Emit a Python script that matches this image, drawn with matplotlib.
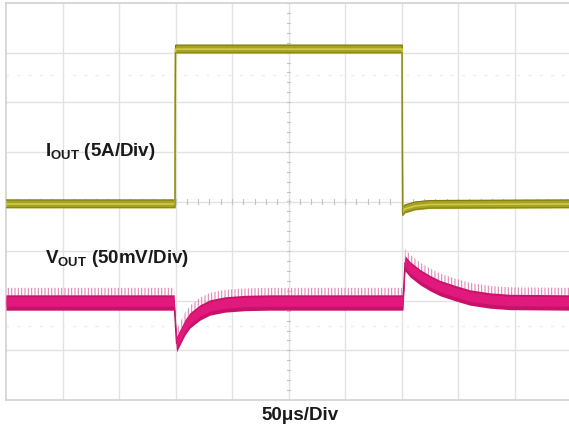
"""Load-step transient capture: IOUT (5A/Div) and VOUT (50mV/Div), 50us/Div."""

import matplotlib

matplotlib.use("Agg")
import matplotlib.pyplot as plt
import numpy as np

# time axis in microseconds, traces in screen divisions (0 = centre line)
iout_t = [0, 149.6, 150.0, 350.6, 351.0, 353, 362, 375, 500]
iout_div = [-0.04, -0.04, 3.08, 3.08, -0.20, -0.14, -0.08, -0.05, -0.04]

vout_t = [0, 148.7, 150.9, 154.0, 158.4, 162.8, 171.7, 180.5, 193.8, 211.5,
          233.6, 351.3, 353.1, 357.5, 366.4, 375.2, 384.1, 397.3, 410.6,
          428.3, 446.0, 500]
vout_div = [-2.02, -2.02, -2.86, -2.72, -2.52, -2.38, -2.22, -2.12, -2.06,
            -2.03, -2.02, -2.02, -1.23, -1.35, -1.51, -1.63, -1.73, -1.83,
            -1.92, -1.98, -2.01, -2.02]

labels = [r"$\mathbf{I_{OUT}}$ (5A/Div)", r"$\mathbf{V_{OUT}}$ (50mV/Div)"]
time_label = "50μs/Div"

plt.rcParams["font.family"] = ["Liberation Sans", "DejaVu Sans"]
plt.rcParams["mathtext.fontset"] = "custom"
plt.rcParams["mathtext.bf"] = "Liberation Sans:bold"
plt.rcParams["mathtext.rm"] = "Liberation Sans"
plt.rcParams["hatch.linewidth"] = 0.8

W, H = 569, 426
fig = plt.figure(figsize=(W / 100, H / 100), dpi=100)
ax = fig.add_axes([6 / W, 26 / H, 565 / W, 397 / H])
ax.set_xlim(0, 500)
ax.set_ylim(-4, 4)
ax.set_xticks([])
ax.set_yticks([])
for side in ("left", "top", "bottom"):
    ax.spines[side].set_color("#d2d2d2")
    ax.spines[side].set_linewidth(1.2)
ax.spines["right"].set_visible(False)

grid_c = "#e2e2e2"
for x in np.arange(50, 500, 50):
    ax.axvline(x, color=grid_c, lw=1.0, zorder=0)
for y in np.arange(-3, 4, 1):
    ax.axhline(y, color=grid_c, lw=1.0, zorder=0)

# centre-line minor ticks
for y in np.arange(-4, 4.01, 0.2):
    ax.plot([248.5, 251.5], [y, y], color="#c4c4c4", lw=0.8, zorder=0)
for x in np.arange(0, 500.1, 10):
    ax.plot([x, x], [-0.05, 0.05], color="#c4c4c4", lw=0.8, zorder=0)

# faint ghost rows of the scope screen
for y in (2.54, -2.50):
    ax.axhline(y, color="#ececec", lw=1.0, ls=(0, (2, 6)), zorder=0)

# IOUT trace
it = np.array(iout_t)
iv = np.array(iout_div)
ax.plot(it, iv, color="#6f6c16", lw=0.9, zorder=2)
ax.fill_between(it, iv - 0.09, iv + 0.09, color="#a6a226", lw=0, zorder=3)
ax.plot(it, iv + 0.07, color="#7f7b12", lw=0.8, zorder=4)
ax.plot(it, iv - 0.01, color="#cfcb40", lw=1.2, zorder=4)
ax.plot(it, iv - 0.08, color="#8a8618", lw=0.8, zorder=4)

# VOUT trace
vt = np.array(vout_t)
vv = np.array(vout_div)
ax.fill_between(vt, vv + 0.12, vv + 0.28, facecolor="none",
                edgecolor="#e384b4", hatch="|||||", lw=0, zorder=2)
ax.plot(vt, vv, color="#a5105a", lw=0.9, zorder=2)
ax.fill_between(vt, vv - 0.17, vv + 0.14, color="#c8126a", lw=0, zorder=3)
ax.fill_between(vt, vv - 0.09, vv + 0.10, color="#e2197c", lw=0, zorder=4)

txt_c = "#1a1a1a"
fig.text(45 / W, 1 - 156 / H, labels[0], fontsize=13.5, fontweight="bold",
         color=txt_c, va="baseline", ha="left")
fig.text(45 / W, 1 - 263 / H, labels[1], fontsize=13.5, fontweight="bold",
         color=txt_c, va="baseline", ha="left")
fig.text(300 / W, 1 - 420 / H, time_label, fontsize=13.5, fontweight="bold",
         color=txt_c, va="baseline", ha="center")

fig.savefig("out.png", dpi=100)
